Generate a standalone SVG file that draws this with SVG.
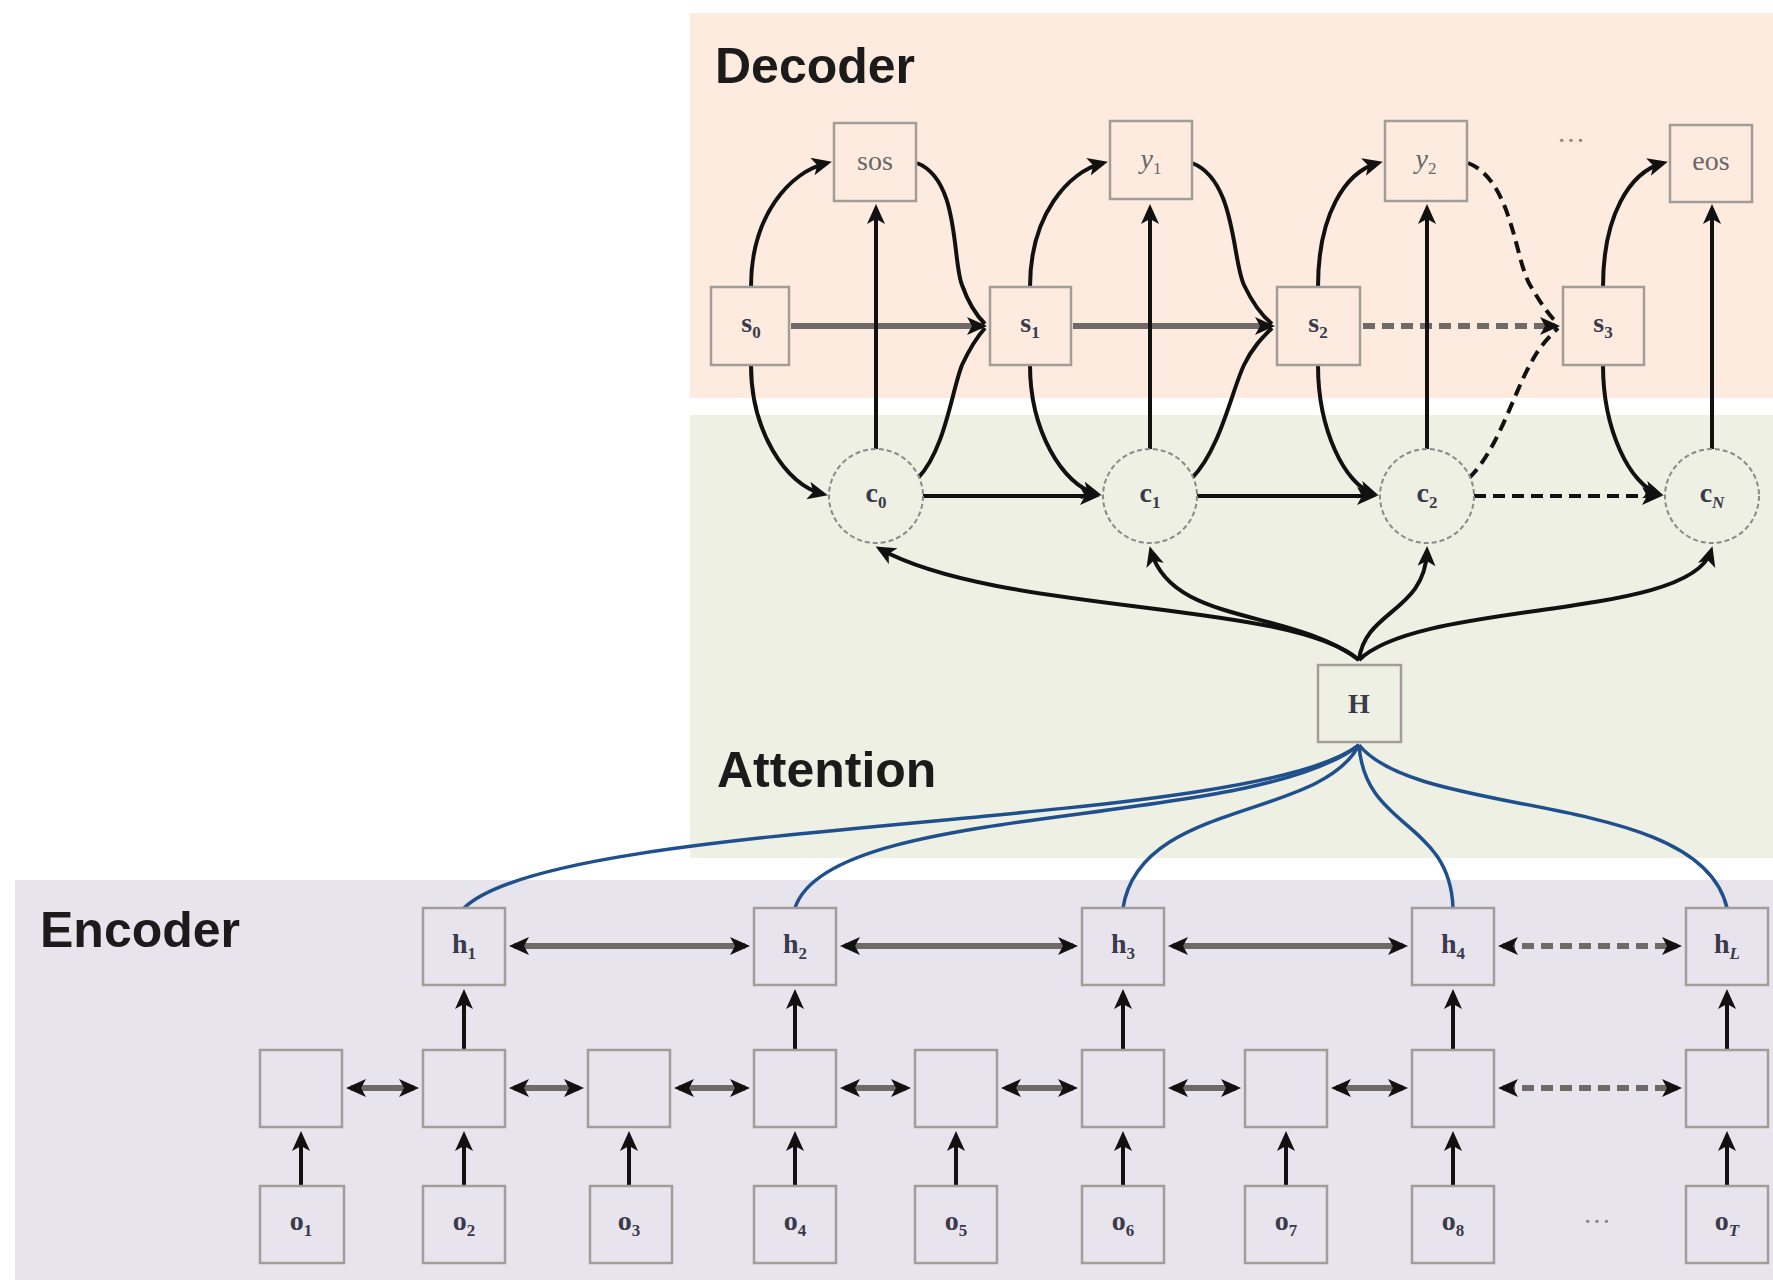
<svg xmlns="http://www.w3.org/2000/svg" width="1773" height="1280" viewBox="0 0 1773 1280">
<defs>
<style>
.region-title{font-family:"Liberation Sans",Arial,sans-serif;font-weight:bold;font-size:50px;fill:#1b1b1b}
.box{stroke:#a39d99;stroke-width:2.5}
.dec{fill:#fdebdf}
.enc{fill:#e8e4ee}
.circ{fill:#eef0e3;stroke:#8a8a8a;stroke-width:2;stroke-dasharray:5 3}
.lbl{font-family:"Liberation Serif","Times New Roman",serif;font-size:28px;fill:#666;text-anchor:middle}
.vec{font-weight:bold;fill:#3a3a4a}
.sub{font-size:17px}
.thick{stroke:#6f6a68;stroke-width:6;fill:none}
.blk{stroke:#111;stroke-width:4;fill:none}
.dash{stroke-dasharray:12 7}
.blue{stroke:#1f4f8c;stroke-width:3.5;fill:none}
.dots{font-family:"Liberation Serif",serif;font-size:28px;fill:#8a7f7a;text-anchor:middle}
</style>
<marker id="ah" markerUnits="userSpaceOnUse" markerWidth="22" markerHeight="20" refX="15" refY="9" orient="auto-start-reverse">
<path d="M0,0 L20,9 L0,18 L5,9 z" fill="#111"/>
</marker>
</defs>

<!-- regions -->
<rect x="690" y="13" width="1083" height="385" fill="#fdebdf"/>
<rect x="690" y="415" width="1083" height="443" fill="#eef0e3"/>
<rect x="15" y="880" width="1758" height="400" fill="#e8e4ee"/>

<text class="region-title" x="715" y="83">Decoder</text>
<text class="region-title" x="717" y="787">Attention</text>
<text class="region-title" x="40" y="947">Encoder</text>

<!-- connectors -->
<g id="connectors">
<!-- decoder state chain -->
<path class="thick" d="M791,326 L982,326" marker-end="url(#ah)"/>
<path class="thick" d="M1073,326 L1270,326" marker-end="url(#ah)"/>
<path class="thick dash" d="M1363,326 L1555,326" marker-end="url(#ah)"/>
<!-- context chain -->
<path class="blk" d="M923,496 L1095,496" marker-end="url(#ah)"/>
<path class="blk" d="M1197,496 L1372,496" marker-end="url(#ah)"/>
<path class="blk dash" d="M1474,496 L1657,496" marker-end="url(#ah)"/>
<!-- context to outputs -->
<path class="blk" d="M876,449 L876,209" marker-end="url(#ah)"/>
<path class="blk" d="M1150,449 L1150,209" marker-end="url(#ah)"/>
<path class="blk" d="M1427,449 L1427,209" marker-end="url(#ah)"/>
<path class="blk" d="M1712,449 L1712,209" stroke="#444" marker-end="url(#ah)"/>
<!-- state to output -->
<path class="blk" d="M751,287 C751,215 790,172 827,163" marker-end="url(#ah)"/>
<path class="blk" d="M1030,287 C1030,215 1068,172 1103,163" marker-end="url(#ah)"/>
<path class="blk" d="M1318,287 C1318,215 1345,172 1378,163" marker-end="url(#ah)"/>
<path class="blk" d="M1603,287 C1603,215 1630,172 1663,163" marker-end="url(#ah)"/>
<!-- state to context -->
<path class="blk" d="M751,365 C751,430 785,485 823,494" marker-end="url(#ah)"/>
<path class="blk" d="M1030,365 C1030,430 1062,485 1097,494" marker-end="url(#ah)"/>
<path class="blk" d="M1318,365 C1318,430 1345,485 1374,494" marker-end="url(#ah)"/>
<path class="blk" d="M1603,365 C1603,430 1630,485 1659,494" marker-end="url(#ah)"/>
<!-- output to next state -->
<path class="blk" d="M917,163 C960,180 952,260 962,285 C968,302 975,314 985,324"/>
<path class="blk" d="M1192,163 C1236,180 1232,260 1244,285 C1252,302 1260,314 1272,324"/>
<path class="blk dash" d="M1468,163 C1512,180 1515,260 1530,285 C1540,302 1548,314 1558,324"/>
<!-- context to next state -->
<path class="blk" d="M918,478 C945,450 952,390 962,365 C970,348 976,338 985,328"/>
<path class="blk" d="M1192,478 C1220,450 1232,390 1244,365 C1252,348 1262,338 1272,328"/>
<path class="blk dash" d="M1469,478 C1498,450 1515,390 1530,365 C1538,348 1548,338 1558,328"/>
<!-- H to contexts -->
<path class="blk" d="M1359,660 C1290,600 1000,615 880,549" marker-end="url(#ah)"/>
<path class="blk" d="M1359,660 C1290,608 1172,625 1151,551" marker-end="url(#ah)"/>
<path class="blk" d="M1359,660 C1365,610 1425,612 1427,551" marker-end="url(#ah)"/>
<path class="blk" d="M1359,660 C1420,600 1690,620 1711,551" marker-end="url(#ah)"/>
<!-- encoder to H -->
<path class="blue" d="M1359,745 C1250,830 560,815 464,908"/>
<path class="blue" d="M1359,745 C1250,830 830,800 795,908"/>
<path class="blue" d="M1359,745 C1320,820 1140,800 1123,908"/>
<path class="blue" d="M1359,745 C1365,830 1450,820 1453,908"/>
<path class="blue" d="M1359,745 C1420,820 1700,790 1727,908"/>
<!-- h row bidirectional -->
<path class="thick" d="M514,946 L745,946" marker-start="url(#ah)" marker-end="url(#ah)"/>
<path class="thick" d="M845,946 L1073,946" marker-start="url(#ah)" marker-end="url(#ah)"/>
<path class="thick" d="M1173,946 L1403,946" marker-start="url(#ah)" marker-end="url(#ah)"/>
<path class="thick dash" d="M1503,946 L1677,946" marker-start="url(#ah)" marker-end="url(#ah)"/>
<!-- mid row bidirectional -->
<path class="thick" d="M351,1088 L414,1088" marker-start="url(#ah)" marker-end="url(#ah)"/>
<path class="thick" d="M514,1088 L579,1088" marker-start="url(#ah)" marker-end="url(#ah)"/>
<path class="thick" d="M679,1088 L745,1088" marker-start="url(#ah)" marker-end="url(#ah)"/>
<path class="thick" d="M845,1088 L906,1088" marker-start="url(#ah)" marker-end="url(#ah)"/>
<path class="thick" d="M1006,1088 L1073,1088" marker-start="url(#ah)" marker-end="url(#ah)"/>
<path class="thick" d="M1173,1088 L1236,1088" marker-start="url(#ah)" marker-end="url(#ah)"/>
<path class="thick" d="M1336,1088 L1403,1088" marker-start="url(#ah)" marker-end="url(#ah)"/>
<path class="thick dash" d="M1503,1088 L1677,1088" marker-start="url(#ah)" marker-end="url(#ah)"/>
<!-- inputs up -->
<path class="blk" d="M301,1186 L301,1136" marker-end="url(#ah)"/>
<path class="blk" d="M464,1186 L464,1136" marker-end="url(#ah)"/>
<path class="blk" d="M629,1186 L629,1136" marker-end="url(#ah)"/>
<path class="blk" d="M795,1186 L795,1136" marker-end="url(#ah)"/>
<path class="blk" d="M956,1186 L956,1136" marker-end="url(#ah)"/>
<path class="blk" d="M1123,1186 L1123,1136" marker-end="url(#ah)"/>
<path class="blk" d="M1286,1186 L1286,1136" marker-end="url(#ah)"/>
<path class="blk" d="M1453,1186 L1453,1136" marker-end="url(#ah)"/>
<path class="blk" d="M1727,1186 L1727,1136" marker-end="url(#ah)"/>
<!-- mid to h -->
<path class="blk" d="M464,1050 L464,994" marker-end="url(#ah)"/>
<path class="blk" d="M795,1050 L795,994" marker-end="url(#ah)"/>
<path class="blk" d="M1123,1050 L1123,994" marker-end="url(#ah)"/>
<path class="blk" d="M1453,1050 L1453,994" marker-end="url(#ah)"/>
<path class="blk" d="M1727,1050 L1727,994" marker-end="url(#ah)"/>
</g>

<!-- decoder nodes -->
<g id="sos"><rect class="box dec" x="834" y="123" width="82" height="78"/><text class="lbl" x="875" y="170">sos</text></g>
<g id="y1"><rect class="box dec" x="1110" y="121" width="82" height="78"/><text class="lbl" x="1151" y="168"><tspan font-style="italic">y</tspan><tspan class="sub" dy="6">1</tspan></text></g>
<g id="y2"><rect class="box dec" x="1385" y="121" width="82" height="80"/><text class="lbl" x="1426" y="168"><tspan font-style="italic">y</tspan><tspan class="sub" dy="6">2</tspan></text></g>
<text class="dots" x="1571" y="150">···</text>
<g id="eos"><rect class="box dec" x="1670" y="125" width="82" height="77"/><text class="lbl" x="1711" y="170">eos</text></g>

<g id="s0"><rect class="box dec" x="711" y="287" width="78" height="78"/><text class="lbl vec" x="751" y="332">s<tspan class="sub" dy="6">0</tspan></text></g>
<g id="s1"><rect class="box dec" x="990" y="287" width="81" height="78"/><text class="lbl vec" x="1030" y="332">s<tspan class="sub" dy="6">1</tspan></text></g>
<g id="s2"><rect class="box dec" x="1277" y="287" width="83" height="78"/><text class="lbl vec" x="1318" y="332">s<tspan class="sub" dy="6">2</tspan></text></g>
<g id="s3"><rect class="box dec" x="1563" y="287" width="81" height="78"/><text class="lbl vec" x="1603" y="332">s<tspan class="sub" dy="6">3</tspan></text></g>

<!-- attention nodes -->
<g id="c0"><circle class="circ" cx="876" cy="496" r="47"/><text class="lbl vec" x="876" y="502">c<tspan class="sub" dy="6">0</tspan></text></g>
<g id="c1"><circle class="circ" cx="1150" cy="496" r="47"/><text class="lbl vec" x="1150" y="502">c<tspan class="sub" dy="6">1</tspan></text></g>
<g id="c2"><circle class="circ" cx="1427" cy="496" r="47"/><text class="lbl vec" x="1427" y="502">c<tspan class="sub" dy="6">2</tspan></text></g>
<g id="cN"><circle class="circ" cx="1712" cy="496" r="47"/><text class="lbl vec" x="1712" y="502">c<tspan class="sub" dy="6" font-style="italic">N</tspan></text></g>

<g id="H"><rect class="box" fill="#eef0e3" x="1318" y="665" width="83" height="77"/><text class="lbl vec" x="1359" y="713">H</text></g>

<!-- encoder h row -->
<g id="h1"><rect class="box enc" x="423" y="908" width="82" height="77"/><text class="lbl vec" x="464" y="953">h<tspan class="sub" dy="6">1</tspan></text></g>
<g id="h2"><rect class="box enc" x="754" y="908" width="82" height="77"/><text class="lbl vec" x="795" y="953">h<tspan class="sub" dy="6">2</tspan></text></g>
<g id="h3"><rect class="box enc" x="1082" y="908" width="82" height="77"/><text class="lbl vec" x="1123" y="953">h<tspan class="sub" dy="6">3</tspan></text></g>
<g id="h4"><rect class="box enc" x="1412" y="908" width="82" height="77"/><text class="lbl vec" x="1453" y="953">h<tspan class="sub" dy="6">4</tspan></text></g>
<g id="hL"><rect class="box enc" x="1686" y="908" width="82" height="77"/><text class="lbl vec" x="1727" y="953">h<tspan class="sub" dy="6" font-style="italic">L</tspan></text></g>

<!-- encoder middle row -->
<g id="m1"><rect class="box enc" x="260" y="1050" width="82" height="77"/></g>
<g id="m2"><rect class="box enc" x="423" y="1050" width="82" height="77"/></g>
<g id="m3"><rect class="box enc" x="588" y="1050" width="82" height="77"/></g>
<g id="m4"><rect class="box enc" x="754" y="1050" width="82" height="77"/></g>
<g id="m5"><rect class="box enc" x="915" y="1050" width="82" height="77"/></g>
<g id="m6"><rect class="box enc" x="1082" y="1050" width="82" height="77"/></g>
<g id="m7"><rect class="box enc" x="1245" y="1050" width="82" height="77"/></g>
<g id="m8"><rect class="box enc" x="1412" y="1050" width="82" height="77"/></g>
<g id="m9"><rect class="box enc" x="1686" y="1050" width="82" height="77"/></g>

<!-- encoder input row -->
<g id="o1"><rect class="box enc" x="260" y="1186" width="84" height="77"/><text class="lbl vec" x="301" y="1230">o<tspan class="sub" dy="6">1</tspan></text></g>
<g id="o2"><rect class="box enc" x="423" y="1186" width="82" height="77"/><text class="lbl vec" x="464" y="1230">o<tspan class="sub" dy="6">2</tspan></text></g>
<g id="o3"><rect class="box enc" x="590" y="1186" width="82" height="77"/><text class="lbl vec" x="629" y="1230">o<tspan class="sub" dy="6">3</tspan></text></g>
<g id="o4"><rect class="box enc" x="754" y="1186" width="82" height="77"/><text class="lbl vec" x="795" y="1230">o<tspan class="sub" dy="6">4</tspan></text></g>
<g id="o5"><rect class="box enc" x="915" y="1186" width="82" height="77"/><text class="lbl vec" x="956" y="1230">o<tspan class="sub" dy="6">5</tspan></text></g>
<g id="o6"><rect class="box enc" x="1082" y="1186" width="82" height="77"/><text class="lbl vec" x="1123" y="1230">o<tspan class="sub" dy="6">6</tspan></text></g>
<g id="o7"><rect class="box enc" x="1245" y="1186" width="82" height="77"/><text class="lbl vec" x="1286" y="1230">o<tspan class="sub" dy="6">7</tspan></text></g>
<g id="o8"><rect class="box enc" x="1412" y="1186" width="82" height="77"/><text class="lbl vec" x="1453" y="1230">o<tspan class="sub" dy="6">8</tspan></text></g>
<text class="dots" x="1597" y="1231">···</text>
<g id="oT"><rect class="box enc" x="1686" y="1186" width="82" height="77"/><text class="lbl vec" x="1727" y="1230">o<tspan class="sub" dy="6" font-style="italic">T</tspan></text></g>
</svg>
